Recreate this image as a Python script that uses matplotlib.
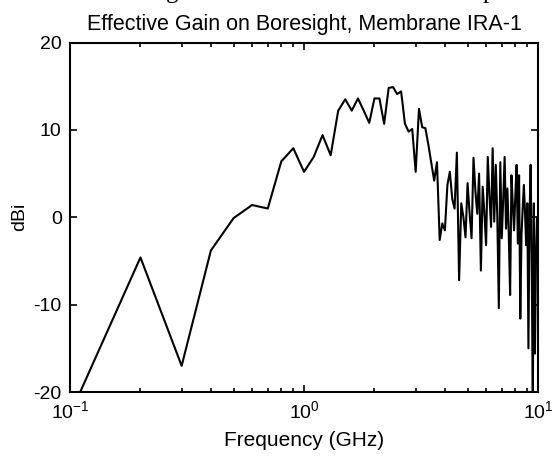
import numpy as np
import matplotlib
matplotlib.use('Agg')
import matplotlib.pyplot as plt

# frequency grid, 0.1 GHz steps
freq_ghz = np.round(np.arange(1, 101) * 0.1, 1)

gain_dbi = [
    -22.6, -4.6, -17.0, -3.8, -0.1, 1.4, 1.0, 6.4, 7.9, 5.2,
    6.9, 9.4, 7.1, 12.2, 13.5, 12.2, 13.6, 12.2, 10.8, 13.6,
    13.6, 10.7, 14.8, 14.9, 14.1, 14.4, 10.7, 9.8, 10.1, 5.2,
    12.4, 10.3, 10.2, 8.3, 6.2, 4.2, 6.3, -2.6, -0.7, -1.5,
    3.7, 5.2, 2.1, 1.0, 7.4, -7.2, 1.6, 0.0, -2.3, 3.9,
    0.5, -2.4, 6.8, 3.0, 0.4, 5.0, -6.1, 3.5, 0.5, -3.2,
    6.9, 2.5, -1.1, 7.9, -0.5, 6.0, 0.0, -10.4, 6.3, -2.4,
    2.0, 6.9, -1.3, 3.3, -2.0, -8.9, 4.8, 1.5, -1.5, 2.5,
    6.0, -3.0, 4.8, -11.6, -2.0, 1.0, 3.7, 0.5, -3.2, 1.6,
    -15.0, 0.0, 6.0, -5.0, -22.0, 1.6, -15.6, -5.0, 0.0, -0.5,
]

x_ticks = [0.1, 1, 10]
x_tick_labels = ['$10^{-1}$', '$10^{0}$', '$10^{1}$']
y_ticks = [-20, -10, 0, 10, 20]

plt.rcParams['font.family'] = ['Liberation Sans', 'DejaVu Sans']
plt.rcParams['mathtext.fontset'] = 'custom'
plt.rcParams['mathtext.rm'] = 'Liberation Sans'
plt.rcParams['mathtext.default'] = 'regular'

fig = plt.figure(figsize=(5.53, 4.57), dpi=100)
ax = fig.add_axes([0.1266, 0.1422, 0.8463, 0.7648])

ax.plot(freq_ghz, gain_dbi, color='black', lw=1.5)
ax.set_xscale('log')
ax.set_xlim(0.1, 10)
ax.set_ylim(-20, 20)
ax.set_xticks(x_ticks)
ax.set_xticklabels(x_tick_labels)
ax.set_yticks(y_ticks)
ax.set_yticklabels([str(v) for v in y_ticks])

for s in ax.spines.values():
    s.set_linewidth(1.5)
ax.tick_params(which='both', direction='in', top=True, right=True,
               labelsize=14, width=1.2)
ax.tick_params(which='major', length=5, pad=6)
ax.tick_params(which='minor', length=3)

ax.set_xlabel('Frequency (GHz)', fontsize=15, labelpad=6)
ax.set_ylabel('dBi', fontsize=14, labelpad=4)
ax.set_title('Effective Gain on Boresight, Membrane IRA-1', fontsize=15.5, pad=9)

# remnants of the caption line above, cut off by the crop
fig.text(166 / 553, 1 + 2 / 457, 'g', fontsize=18, family='Liberation Serif',
         ha='left', va='baseline')
fig.text(483 / 553, 1 + 2 / 457, 'p', fontsize=18, family='Liberation Serif',
         ha='left', va='baseline')

fig.savefig('out.png', dpi=100)
plt.close(fig)
